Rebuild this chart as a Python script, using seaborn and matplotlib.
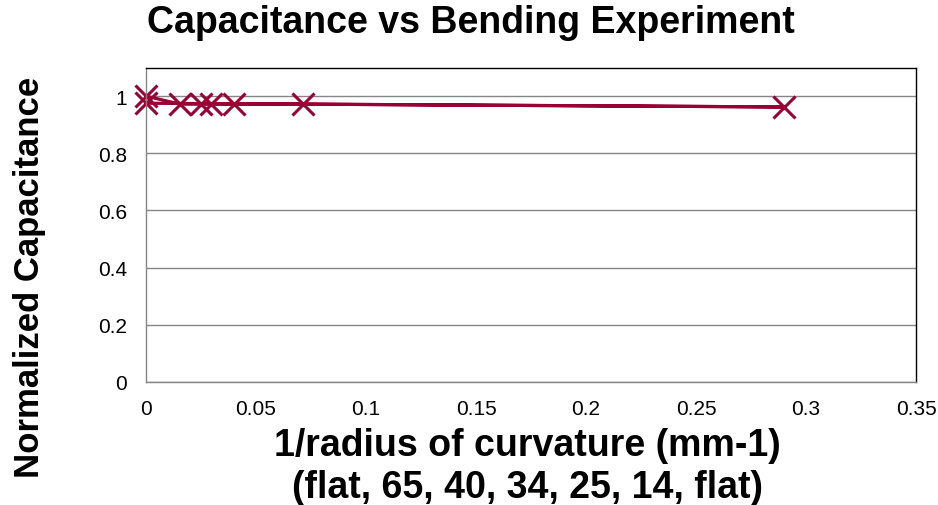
import matplotlib
matplotlib.use("Agg")
import matplotlib.pyplot as plt
import seaborn as sns
import pandas as pd

# data
inv_radius = [0.0, 0.0154, 0.025, 0.0294, 0.04, 0.0714, 0.29, 0.0]
norm_cap = [1.0, 0.972, 0.972, 0.972, 0.972, 0.972, 0.962, 0.975]
order = list(range(len(inv_radius)))
x_ticks = [0, 0.05, 0.1, 0.15, 0.2, 0.25, 0.3, 0.35]
x_tick_labels = ["0", "0.05", "0.1", "0.15", "0.2", "0.25", "0.3", "0.35"]
y_ticks = [0, 0.2, 0.4, 0.6, 0.8, 1.0]
y_tick_labels = ["0", "0.2", "0.4", "0.6", "0.8", "1"]

title = "Capacitance vs Bending Experiment"
xlabel = "1/radius of curvature (mm-1)\n(flat, 65, 40, 34, 25, 14, flat)"
ylabel = "Normalized Capacitance"

sns.set_theme(style="white")
plt.rcParams["font.family"] = ["Liberation Sans", "DejaVu Sans"]
plt.rcParams["text.color"] = "black"

df = pd.DataFrame({"x": inv_radius, "y": norm_cap, "o": order})

fig = plt.figure(figsize=(9.38, 5.06), dpi=100)
ax = fig.add_axes([146 / 938, 1 - 383 / 506, (916 - 146) / 938, (383 - 68.5) / 506])

color = "#990033"
sns.lineplot(data=df, x="x", y="y", sort=False, estimator=None, ax=ax,
             color=color, linewidth=2.3, marker="x", markersize=16,
             markeredgewidth=2.2, markeredgecolor=color, clip_on=False)

ax.set_xlim(0, 0.35)
ax.set_ylim(0, 1.1)
ax.set_xticks(x_ticks)
ax.set_xticklabels(x_tick_labels)
ax.set_yticks(y_ticks)
ax.set_yticklabels(y_tick_labels)
ax.tick_params(axis="both", length=0, labelsize=15, colors="black")
ax.tick_params(axis="x", pad=12)
ax.tick_params(axis="y", pad=13.5)

ax.grid(axis="y", color="#868686", linewidth=1)
ax.grid(axis="x", visible=False)
ax.set_axisbelow(True)

for side in ["left", "bottom"]:
    ax.spines[side].set_color("#868686")
    ax.spines[side].set_linewidth(1)
for side in ["top", "right"]:
    ax.spines[side].set_color("black")
    ax.spines[side].set_linewidth(1)

ax.set_xlabel("")
ax.set_ylabel("")
fig.text(471 / 938, 1 - 23 / 506, title, ha="center", va="center",
         fontsize=27, fontweight="bold", color="black")
fig.text(527 / 938, 1 - 467 / 506, xlabel, ha="center", va="center",
         fontsize=27, fontweight="bold", linespacing=1.2, color="black")
fig.text(30 / 938, 1 - 277 / 506, ylabel, ha="center", va="center",
         rotation=90, fontsize=25, fontweight="bold", color="black")

fig.savefig("out.png", dpi=100)
